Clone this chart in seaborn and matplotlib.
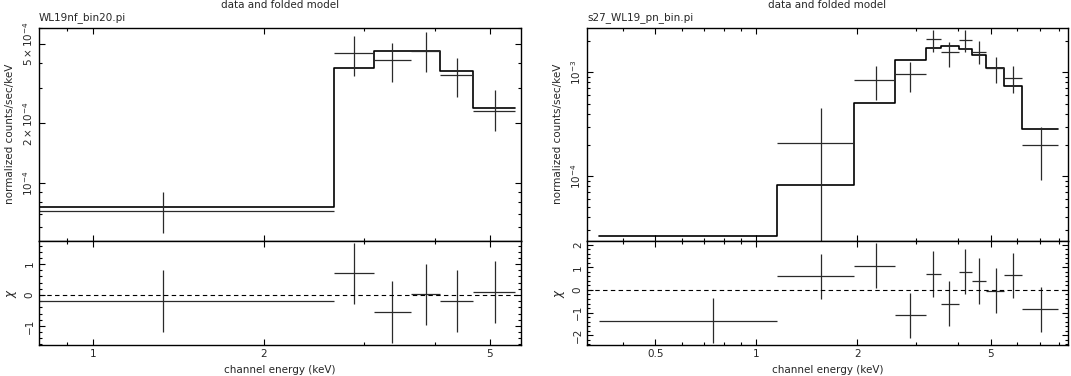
import numpy as np
import matplotlib
matplotlib.use("Agg")
import matplotlib.pyplot as plt
from matplotlib.ticker import FixedLocator, NullFormatter
import seaborn as sns

# ---- data ----
# left spectrum: WL19nf_bin20.pi
l_edges = [0.5, 2.655, 3.126, 3.63, 4.086, 4.68, 5.55]
l_model = [7.58e-5, 3.80e-4, 4.63e-4, 4.63e-4, 3.65e-4, 2.37e-4]
l_x = [1.326, 2.88, 3.365, 3.857, 4.38, 5.11]
l_y = [7.26e-5, 4.49e-4, 4.14e-4, 4.60e-4, 3.48e-4, 2.31e-4]
l_ylo = [5.6e-5, 3.45e-4, 3.20e-4, 3.62e-4, 2.69e-4, 1.83e-4]
l_yhi = [9.0e-5, 5.49e-4, 5.04e-4, 5.72e-4, 4.27e-4, 2.92e-4]
l_resid = [-0.2, 0.7, -0.55, 0.02, -0.2, 0.1]

# right spectrum: s27_WL19_pn_bin.pi
r_edges = [0.341, 1.155, 1.963, 2.59, 3.20, 3.55, 4.01, 4.39, 4.85, 5.46, 6.18, 7.93]
r_model = [2.6e-5, 8.12e-5, 5.09e-4, 1.31e-3, 1.73e-3, 1.80e-3, 1.67e-3,
           1.47e-3, 1.11e-3, 7.37e-4, 2.87e-4]
r_x = [0.744, 1.56, 2.28, 2.87, 3.37, 3.76, 4.19, 4.60, 5.18, 5.83, 7.05]
r_y = [1.0e-6, 2.09e-4, 8.37e-4, 9.63e-4, 2.10e-3, 1.56e-3, 2.05e-3,
       1.58e-3, 1.10e-3, 8.88e-4, 1.98e-4]
r_ylo = [1e-8, 1e-8, 5.4e-4, 6.5e-4, 1.58e-3, 1.13e-3, 1.56e-3,
         1.2e-3, 7.9e-4, 6.36e-4, 9.1e-5]
r_yhi = [1.9e-5, 4.49e-4, 1.15e-3, 1.25e-3, 2.6e-3, 1.98e-3, 2.57e-3,
         2.0e-3, 1.40e-3, 1.15e-3, 2.98e-4]
r_resid = [-1.35, 0.6, 1.07, -1.12, 0.7, -0.6, 0.8, 0.4, -0.03, 0.65, -0.85]

sns.set_theme(style="ticks")
plt.rcParams['font.family'] = ['DejaVu Sans']
plt.rcParams['mathtext.fontset'] = 'dejavusans'
fs = 7.5

W, H = 1071, 376
fig = plt.figure(figsize=(W / 100, H / 100), dpi=100)


def frac(x0, x1, y0, y1):
    return [x0 / W, 1 - y1 / H, (x1 - x0) / W, (y1 - y0) / H]


def style_ax(ax):
    ax.tick_params(which='both', direction='in', top=True, right=True,
                   labelsize=fs, color='black', pad=3)
    ax.tick_params(which='major', length=4, width=0.8)
    ax.tick_params(which='minor', length=2, width=0.8)
    for s in ax.spines.values():
        s.set_linewidth(1.0)
        s.set_color('black')


def panel(x0, x1, edges, model, xs, ys, ylo, yhi, resid, ylim_top, ylim_bot,
          xlim, xmaj, xmaj_lab, xmin, ymaj, ymaj_lab, ymin, rmaj, rmin, name):
    ax = fig.add_axes(frac(x0, x1, 27.5, 241))
    axr = fig.add_axes(frac(x0, x1, 241, 345), sharex=ax)
    ax.set_xscale('log')
    ax.set_yscale('log')

    # folded model (step)
    sns.lineplot(x=edges, y=list(model) + [model[-1]], drawstyle='steps-post',
                 estimator=None, sort=False, color='black', lw=1.2, ax=ax)

    # data crosses
    xs = np.array(xs)
    el = np.array(edges)
    xerr = [xs - el[:-1], el[1:] - xs]
    if el[0] < xlim[0]:
        xerr[0][0] = xs[0] - xlim[0] * 0.9
    ys = np.array(ys)
    yerr = [ys - np.array(ylo), np.array(yhi) - ys]
    ax.errorbar(xs, ys, xerr=xerr, yerr=yerr, fmt='none', ecolor='#2a2a2a',
                elinewidth=0.9, capsize=0)

    # residuals
    axr.errorbar(xs, resid, xerr=xerr, yerr=1.0, fmt='none', ecolor='#2a2a2a',
                 elinewidth=0.9, capsize=0)
    axr.axhline(0, color='black', lw=0.8, ls=(0, (4, 3)))

    ax.set_xlim(*xlim)
    ax.set_ylim(*ylim_top)
    axr.set_ylim(*ylim_bot)

    for a in (ax, axr):
        style_ax(a)
        a.set_xlabel('')
        a.set_ylabel('')
    axr.xaxis.set_major_locator(FixedLocator(xmaj))
    axr.xaxis.set_minor_locator(FixedLocator(xmin))
    axr.set_xticklabels(xmaj_lab)
    axr.xaxis.set_minor_formatter(NullFormatter())
    plt.setp(ax.get_xticklabels(), visible=False)

    ax.yaxis.set_major_locator(FixedLocator(ymaj))
    ax.yaxis.set_minor_locator(FixedLocator(ymin))
    ax.set_yticklabels(ymaj_lab)
    ax.yaxis.set_minor_formatter(NullFormatter())

    axr.yaxis.set_major_locator(FixedLocator(rmaj))
    axr.yaxis.set_minor_locator(FixedLocator(rmin))
    axr.set_yticklabels([str(v).replace('-', '\u2212') for v in rmaj])

    for a in (ax, axr):
        for lab in a.get_yticklabels():
            lab.set_rotation(90)
            lab.set_va('center')
            lab.set_ha('right')

    cx = (x0 + x1) / 2 / W
    fig.text(cx, 1 - 5 / H, 'data and folded model', ha='center', va='center', fontsize=fs)
    fig.text(x0 / W, 1 - 18 / H, name, ha='left', va='center', fontsize=fs)
    fig.text((x0 - 29) / W, 1 - 134 / H, 'normalized counts/sec/keV', rotation=90,
             ha='center', va='center', fontsize=fs)
    fig.text((x0 - 27) / W, 1 - 293 / H, r'$\chi$', rotation=90,
             ha='center', va='center', fontsize=fs + 1)
    fig.text(cx, 1 - 370 / H, 'channel energy (keV)', ha='center', va='center', fontsize=fs)
    return ax, axr


panel(39, 521, l_edges, l_model, l_x, l_y, l_ylo, l_yhi, l_resid,
      (5.1e-5, 6.05e-4), (-1.62, 1.75), (0.803, 5.68),
      [1, 2, 5], ['1', '2', '5'], [0.9, 3, 4],
      [1e-4, 2e-4, 5e-4],
      [r'$10^{-4}$', r'$2\times10^{-4}$', r'$5\times10^{-4}$'],
      [6e-5, 7e-5, 8e-5, 9e-5, 3e-4, 4e-4, 6e-4],
      [-1, 0, 1], list(np.arange(-1.6, 1.8, 0.2)), 'WL19nf_bin20.pi')

panel(587, 1068, r_edges, r_model, r_x, r_y, r_ylo, r_yhi, r_resid,
      (2.35e-5, 2.72e-3), (-2.43, 2.16), (0.313, 8.5),
      [0.5, 1, 2, 5], ['0.5', '1', '2', '5'], [0.4, 0.6, 0.7, 0.8, 0.9, 3, 4, 6, 7, 8],
      [1e-4, 1e-3], [r'$10^{-4}$', r'$10^{-3}$'],
      [3e-5, 4e-5, 5e-5, 6e-5, 7e-5, 8e-5, 9e-5, 2e-4, 3e-4, 4e-4, 5e-4,
       6e-4, 7e-4, 8e-4, 9e-4, 2e-3],
      [-2, -1, 0, 1, 2], list(np.arange(-2.4, 2.2, 0.2)), 's27_WL19_pn_bin.pi')

fig.savefig('out.png', dpi=100, facecolor='white')
